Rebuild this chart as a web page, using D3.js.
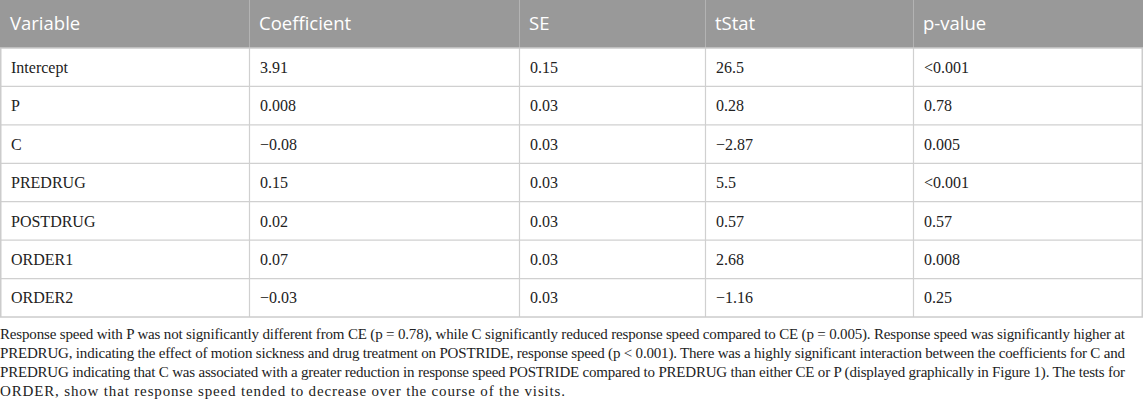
<!DOCTYPE html>
<html>
<head>
<meta charset="utf-8">
<script src="https://cdn.jsdelivr.net/npm/d3@7"></script>
<style>
  body { margin: 0; background: #fff; }
  svg { display: block; }
</style>
</head>
<body>
<div id="table"></div>
<script>
// table content
let columns = ["Variable", "Coefficient", "SE", "tStat", "p-value"];
let variables = ["Intercept", "P", "C", "PREDRUG", "POSTDRUG", "ORDER1", "ORDER2"];
let coefficients = ["3.91", "0.008", "\u22120.08", "0.15", "0.02", "0.07", "\u22120.03"];
let se = ["0.15", "0.03", "0.03", "0.03", "0.03", "0.03", "0.03"];
let tstat = ["26.5", "0.28", "\u22122.87", "5.5", "0.57", "2.68", "\u22121.16"];
let pvalues = ["<0.001", "0.78", "0.005", "<0.001", "0.57", "0.008", "0.25"];
let footnote = [
  "Response speed with P was not significantly different from CE (p = 0.78), while C significantly reduced response speed compared to CE (p = 0.005). Response speed was significantly higher at",
  "PREDRUG, indicating the effect of motion sickness and drug treatment on POSTRIDE, response speed (p < 0.001). There was a highly significant interaction between the coefficients for C and",
  "PREDRUG indicating that C was associated with a greater reduction in response speed POSTRIDE compared to PREDRUG than either CE or P (displayed graphically in Figure 1). The tests for",
  "ORDER, show that response speed tended to decrease over the course of the visits."
];

let w = 1145, h = 404;
let headH = 48;
let tableBottom = 317;
let tableRight = 1143;
let pad = 11;

let viz = d3.select("#table").append("svg")
    .attr("width", w)
    .attr("height", h);

// build rows from the arrays
let rows = variables.map(function(v, i){
  return [v, coefficients[i], se[i], tstat[i], pvalues[i]];
});

// column left edges
let colX = d3.scaleOrdinal().domain(columns).range([0, 249, 519, 705, 913]);

let yScale = d3.scaleBand().domain(variables).range([headH, tableBottom]);

// header
viz.append("rect")
    .attr("x", 0).attr("y", 0)
    .attr("width", tableRight).attr("height", headH)
    .attr("fill", "#999999");

viz.selectAll(".hdiv")
  .data(columns.slice(1))
  .enter()
  .append("line")
    .attr("class", "hdiv")
    .attr("x1", function(d){ return colX(d) + 0.5; })
    .attr("x2", function(d){ return colX(d) + 0.5; })
    .attr("y1", 0).attr("y2", headH)
    .attr("stroke", "#b3b3b3")
    .attr("stroke-width", 1);

viz.selectAll(".htext")
  .data(columns)
  .enter()
  .append("text")
    .attr("class", "htext")
    .attr("x", function(d){ return colX(d) + pad - 1; })
    .attr("y", headH / 2)
    .attr("dy", "0.35em")
    .attr("fill", "#ffffff")
    .attr("font-family", "'Open Sans', sans-serif")
    .attr("font-size", "18.5px")
    .text(function(d){ return d; });

// body grid
let grid = viz.append("g").attr("stroke", "#d0d0d0").attr("stroke-width", 1.2);

grid.selectAll(".rline")
  .data(variables.slice(1))
  .enter()
  .append("line")
    .attr("x1", 0).attr("x2", tableRight)
    .attr("y1", function(d){ return yScale(d); })
    .attr("y2", function(d){ return yScale(d); });

grid.selectAll(".cline")
  .data(columns.slice(1))
  .enter()
  .append("line")
    .attr("x1", function(d){ return colX(d) + 0.5; })
    .attr("x2", function(d){ return colX(d) + 0.5; })
    .attr("y1", headH).attr("y2", tableBottom);

// outer border
viz.append("rect")
    .attr("x", 0.75).attr("y", headH)
    .attr("width", tableRight - 1.5).attr("height", tableBottom - headH)
    .attr("fill", "none")
    .attr("stroke", "#cccccc")
    .attr("stroke-width", 1.5);

// cells
let rowGroups = viz.selectAll(".row")
  .data(rows)
  .enter()
  .append("g")
    .attr("class", "row")
    .attr("transform", function(d){
      return "translate(0," + (yScale(d[0]) + yScale.bandwidth() / 2) + ")";
    });

rowGroups.selectAll("text")
  .data(function(d){ return d; })
  .enter()
  .append("text")
    .attr("x", function(d, i){ return colX(columns[i]) + pad; })
    .attr("dy", "0.35em")
    .attr("fill", "#222")
    .attr("font-family", "'Liberation Serif', 'Times New Roman', serif")
    .attr("font-size", "16px")
    .text(function(d){ return d; });

// footnote, each line stretched to its justified width
let lineWidths = [1125, 1125, 1125, 565];
viz.selectAll(".note")
  .data(footnote)
  .enter()
  .append("text")
    .attr("class", "note")
    .attr("x", 0)
    .attr("y", function(d, i){ return 334 + i * 19; })
    .attr("dy", "0.35em")
    .attr("fill", "#222")
    .attr("font-family", "'Liberation Serif', 'Times New Roman', serif")
    .attr("font-size", "15px")
    .attr("textLength", function(d, i){ return lineWidths[i]; })
    .attr("lengthAdjust", "spacing")
    .text(function(d){ return d; });
</script>
</body>
</html>
